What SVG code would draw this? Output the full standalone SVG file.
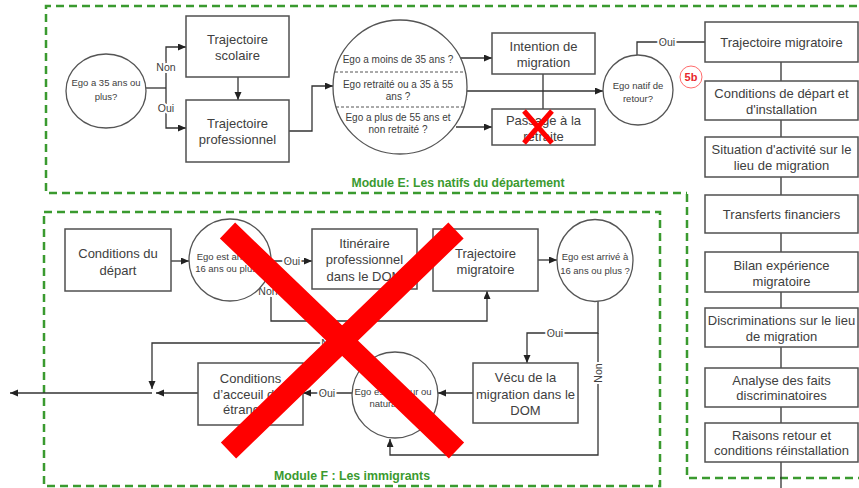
<svg xmlns="http://www.w3.org/2000/svg" width="859" height="488" viewBox="0 0 859 488">
<style>
text{font-family:"Liberation Sans",Arial,sans-serif;fill:#404040;text-anchor:middle}
.box{fill:#fff;stroke:#505050;stroke-width:1.5}
.circ{fill:#fff;stroke:#555;stroke-width:1.3}
.t13{font-size:13px}
.t10{font-size:10px}
.t95{font-size:9.5px}
.lbl{font-size:10.5px;stroke:#fff;stroke-width:4;paint-order:stroke}
.con{fill:none;stroke:#333;stroke-width:1.3}
.arr{marker-end:url(#ah)}
.mod{fill:none;stroke:#3a9a2f;stroke-width:2.5;stroke-dasharray:8 5}
.title{font-size:13px;font-weight:bold;fill:#3a9a2f}
.div{stroke:#555;stroke-width:1;stroke-dasharray:3 2}
.redx{stroke:#ff0000;fill:none}
</style>
<defs>
<marker id="ah" markerUnits="userSpaceOnUse" markerWidth="9" markerHeight="8" refX="8" refY="3.5" orient="auto">
<path d="M0,0 L8,3.5 L0,7 z" fill="#222"/>
</marker>
</defs>

<g id="modules">
<path class="mod" d="M870,6 H46 V193 H687"/>
<path class="mod" d="M687,194 V478 H870"/>
<rect class="mod" x="44" y="212" width="616" height="274"/>
<text class="title" x="458" y="187" textLength="213" lengthAdjust="spacingAndGlyphs">Module E: Les natifs du département</text>
<text class="title" x="352" y="480" textLength="156" lengthAdjust="spacingAndGlyphs">Module F : Les immigrants</text>
</g>

<g id="connectors">
<path class="con" d="M146,88 H166"/>
<path class="con arr" d="M166,88 V47 H186"/>
<path class="con arr" d="M166,88 V128 H186"/>
<path class="con arr" d="M238,77 V100"/>
<path class="con arr" d="M289,131 H312 V86 H333"/>
<path class="con arr" d="M458,58 H492"/>
<path class="con arr" d="M456,127 H492"/>
<path class="con" d="M543,74 V109"/>
<path class="con arr" d="M467,91 H603"/>
<path class="con" d="M637,55 V42 H705"/>
<path class="con" d="M781,62 V81 M781,120 V137 M781,177 V195 M781,233 V252 M781,292 V308 M781,347 V368 M781,407 V423 M781,462 V488"/>
<path class="con arr" d="M171,261 H189"/>
<path class="con arr" d="M271,261 H312"/>
<path class="con arr" d="M271,262 V321 H487 V291"/>
<path class="con arr" d="M538,260 H557"/>
<path class="con arr" d="M598,301 V333 H527 V363"/>
<path class="con arr" d="M598,333 V455 H390 V439"/>
<path class="con arr" d="M473,393 H438"/>
<path class="con arr" d="M352,393 H303"/>
<path class="con arr" d="M198,393 H156"/>
<path class="con arr" d="M152,393 H10"/>
<path class="con arr" d="M345,343 H152 V389"/>
<text class="lbl" x="166" y="71">Non</text>
<text class="lbl" x="166" y="112">Oui</text>
<text class="lbl" x="667" y="46">Oui</text>
<text class="lbl" x="292" y="265">Oui</text>
<text class="lbl" x="268" y="295">Non</text>
<text class="lbl" x="555" y="337">Oui</text>
<text class="lbl" transform="translate(602,373) rotate(-90)">Non</text>
<text class="lbl" x="327" y="397">Oui</text>
<text class="lbl" x="331" y="347">Non</text>
</g>

<g id="e-age35">
<ellipse class="circ" cx="106" cy="91" rx="40" ry="37"/>
<text class="t95" x="106" y="86">Ego a 35 ans ou</text>
<text class="t95" x="106" y="100">plus?</text>
</g>
<g id="e-scolaire">
<rect class="box" x="186" y="16" width="103" height="61"/>
<text class="t13" x="237.5" y="43.5">Trajectoire</text>
<text class="t13" x="237.5" y="59.5">scolaire</text>
</g>
<g id="e-professionnel">
<rect class="box" x="186" y="100" width="103" height="62"/>
<text class="t13" x="237.5" y="128">Trajectoire</text>
<text class="t13" x="237.5" y="144">professionnel</text>
</g>
<g id="e-age-split">
<circle class="circ" cx="400" cy="87" r="67"/>
<line class="div" x1="335" y1="72" x2="465" y2="72"/>
<line class="div" x1="336" y1="107" x2="464" y2="107"/>
<text class="t10" x="398" y="62.5">Ego a moins de 35 ans ?</text>
<text class="t10" x="398" y="87.5">Ego retraité ou a 35 à 55</text>
<text class="t10" x="398" y="99.5">ans ?</text>
<text class="t10" x="398" y="120.5">Ego a plus de 55 ans et</text>
<text class="t10" x="398" y="132.5">non retraité ?</text>
</g>
<g id="e-intention">
<rect class="box" x="492" y="33" width="103" height="41"/>
<text class="t13" x="543.5" y="51">Intention de</text>
<text class="t13" x="543.5" y="67">migration</text>
</g>
<g id="e-retraite">
<rect class="box" x="492" y="109" width="103" height="36"/>
<text class="t13" x="543.5" y="124.5">Passage à la</text>
<text class="t13" x="543.5" y="141">retraite</text>
</g>
<g id="e-natif">
<circle class="circ" cx="638" cy="90" r="35"/>
<text class="t95" x="638" y="89">Ego natif de</text>
<text class="t95" x="638" y="102">retour?</text>
</g>
<g id="badge-5b">
<circle cx="691" cy="77" r="11" fill="#fff" stroke="#ff6b6b" stroke-width="1"/>
<text x="691" y="81" style="font-size:11px;font-weight:bold;fill:#e8262b">5b</text>
</g>

<g id="r-trajectoire">
<rect class="box" x="705" y="22" width="153" height="40"/>
<text class="t13" x="781.5" y="46.5">Trajectoire migratoire</text>
</g>
<g id="r-conditions">
<rect class="box" x="705" y="81" width="153" height="39"/>
<text class="t13" x="781.5" y="97.5">Conditions de départ et</text>
<text class="t13" x="781.5" y="113.5">d'installation</text>
</g>
<g id="r-situation">
<rect class="box" x="705" y="137" width="153" height="40"/>
<text class="t13" x="781.5" y="153.5">Situation d'activité sur le</text>
<text class="t13" x="781.5" y="169.5">lieu de migration</text>
</g>
<g id="r-transferts">
<rect class="box" x="705" y="195" width="153" height="38"/>
<text class="t13" x="781.5" y="218.5">Transferts financiers</text>
</g>
<g id="r-bilan">
<rect class="box" x="705" y="252" width="153" height="40"/>
<text class="t13" x="781.5" y="269.5">Bilan expérience</text>
<text class="t13" x="781.5" y="285.5">migratoire</text>
</g>
<g id="r-discriminations">
<rect class="box" x="705" y="308" width="153" height="39"/>
<text class="t13" x="781.5" y="324.5">Discriminations sur le lieu</text>
<text class="t13" x="781.5" y="340.5">de migration</text>
</g>
<g id="r-analyse">
<rect class="box" x="705" y="368" width="153" height="39"/>
<text class="t13" x="781.5" y="384.5">Analyse des faits</text>
<text class="t13" x="781.5" y="399.5">discriminatoires</text>
</g>
<g id="r-raisons">
<rect class="box" x="705" y="423" width="153" height="39"/>
<text class="t13" x="781.5" y="439.5">Raisons retour et</text>
<text class="t13" x="781.5" y="454.5">conditions réinstallation</text>
</g>

<g id="f-depart">
<rect class="box" x="65" y="229" width="106" height="62"/>
<text class="t13" x="118" y="257.5">Conditions du</text>
<text class="t13" x="118" y="274.5">départ</text>
</g>
<g id="f-age16a">
<circle class="circ" cx="230" cy="260" r="41"/>
<text class="t95" x="230" y="260">Ego est arrivé à</text>
<text class="t95" x="230" y="272">16 ans ou plus ?</text>
</g>
<g id="f-itineraire">
<rect class="box" x="312" y="229" width="105" height="60"/>
<text class="t13" x="364.5" y="247.5">Itinéraire</text>
<text class="t13" x="364.5" y="264">professionnel</text>
<text class="t13" x="364.5" y="280.5">dans le DOM</text>
</g>
<g id="f-trajectoire">
<rect class="box" x="433" y="229" width="105" height="62"/>
<text class="t13" x="485.5" y="257.5">Trajectoire</text>
<text class="t13" x="485.5" y="274">migratoire</text>
</g>
<g id="f-age16b">
<ellipse class="circ" cx="595" cy="260.5" rx="38" ry="41"/>
<text class="t95" x="595" y="260">Ego est arrivé à</text>
<text class="t95" x="595" y="274">16 ans ou plus ?</text>
</g>
<g id="f-vecu">
<rect class="box" x="473" y="363" width="105" height="60"/>
<text class="t13" x="525.5" y="381.5">Vécu de la</text>
<text class="t13" x="525.5" y="398.5">migration dans le</text>
<text class="t13" x="525.5" y="415">DOM</text>
</g>
<g id="f-majeur">
<circle class="circ" cx="395" cy="395" r="43"/>
<text class="t95" x="393" y="395">Ego est majeur ou</text>
<text class="t95" x="394" y="407">naturalisé ?</text>
</g>
<g id="f-acceuil">
<rect class="box" x="198" y="363" width="105" height="62"/>
<text class="t13" x="250.5" y="382.5">Conditions</text>
<text class="t13" x="250.5" y="398.5">d’acceuil des</text>
<text class="t13" x="250.5" y="414">étrangers</text>
</g>

<g id="crosses">
<path class="redx" stroke-width="5" d="M524,111 L552,143 M552,111 L524,143"/>
<path class="redx" stroke-width="22" d="M227.5,230.5 L456.5,450.5 M456,230.5 L228.5,450.5"/>
</g>
</svg>
